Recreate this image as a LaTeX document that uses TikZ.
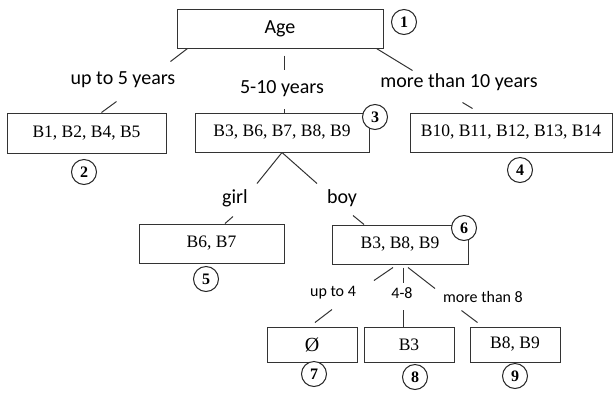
\documentclass[tikz,border=0pt]{standalone}
\usepackage{fontspec}
\setmainfont{Liberation Serif}
\newfontfamily\lblfont{Carlito}
\usetikzlibrary{positioning, calc}

\tikzset{
    box/.style={draw=black!80, line width=1pt, inner sep=0pt, font=\fontsize{17.5}{19}\selectfont},
    lbl/.style={inner sep=1pt, font=\lblfont\fontsize{20}{22}\selectfont},
    small/.style={inner sep=1pt, font=\lblfont\fontsize{16}{18}\selectfont},
    num/.style={circle, draw=black!85, line width=1pt, fill=white, inner sep=0pt, minimum size=25pt, font=\fontsize{16}{17}\selectfont\bfseries},
    link/.style={draw=black!80, line width=1pt}
}

\begin{document}
\begin{tikzpicture}[x=1pt, y=-1pt]
    \useasboundingbox (0,0) rectangle (616,392);

    % Root
    \node[box, minimum width=206pt, minimum height=39pt, font=\lblfont\fontsize{20}{22}\selectfont] (age) at (280,28.5) {Age};
    \node[num] (n1) at (404,22) {1};

    % Level 1
    \node[box, minimum width=159pt, minimum height=40pt] (b1) at (86.5,133) {B1, B2, B4, B5};
    \node[box, minimum width=174pt, minimum height=39pt] (b3) at (282,132.5) {B3, B6, B7, B8, B9};
    \node[box, minimum width=202pt, minimum height=39pt] (b10) at (511,132.5) {B10, B11, B12, B13, B14};
    \node[num] (n2) at (84,172) {2};
    \node[num] (n3) at (375,117) {3};
    \node[num] (n4) at (520,170) {4};

    \node[lbl] (upto5) at (123,80) {up to 5 years};
    \node[lbl] (mid) at (282,89) {5-10 years};
    \node[lbl] (over10) at (459,82) {more than 10 years};

    \draw[link] ($(age.south west)+(11,0)$) -- ++(-17,13);
    \draw[link] ($(b1.north west)+(95,0)$) -- ++(15,-11);
    \draw[link] ($(age.south)+(4,7)$) -- ++(0,14);
    \draw[link] ($(b3.north)+(2,0)$) -- ++(0,-4);
    \draw[link] ($(age.south east)+(-7,0)$) -- ++(36,22);
    \draw[link] ($(b10.north west)+(63,-4)$) -- ++(-10,-6);

    % Level 2
    \node[box, minimum width=145pt, minimum height=39pt] (b6) at (211.5,243.5) {B6, B7};
    \node[box, minimum width=136pt, minimum height=39pt] (b38) at (400,244.5) {B3, B8, B9};
    \node[num] (n5) at (206,279) {5};
    \node[num] (n6) at (464,228) {6};

    \node[lbl] (girl) at (235,198) {girl};
    \node[lbl] (boy) at (342,198) {boy};

    \draw[link] (b3.south) -- ++(-25,31);
    \draw[link] (b3.south) -- ++(35,31);
    \draw[link] ($(b6.north)+(13.5,0)$) -- ++(8,-7);
    \draw[link] ($(b38.north)+(-36,0)$) -- ++(-11,-9);

    % Level 3
    \node[box, minimum width=90pt, minimum height=35pt, font=\fontsize{20}{22}\selectfont] (none) at (312,344.5) {Ø};
    \node[box, minimum width=90pt, minimum height=35pt] (b3s) at (409,344.5) {B3};
    \node[box, minimum width=90pt, minimum height=35pt] (b89) at (515,344.5) {B8, B9};
    \node[num] (n7) at (314,374) {7};
    \node[num] (n8) at (415,377) {8};
    \node[num] (n9) at (515,376) {9};

    \node[small] (upto4) at (333,293) {up to 4};
    \node[small] (four8) at (402,293) {4-8};
    \node[small] (over8) at (483,297) {more than 8};

    \draw[link] ($(b38.south)+(-7,3)$) -- ++(-19,13);
    \draw[link] ($(b38.south)+(3,3)$) -- ++(0,15);
    \draw[link] ($(b38.south)+(8,3)$) -- ++(27,21);
    \draw[link] ($(none.north)+(3,-4)$) -- ++(17,-13);
    \draw[link] ($(b3s.north)+(-6,0)$) -- ++(0,-17);
    \draw[link] ($(b89.north west)+(8,-4)$) -- ++(-16,-12);
\end{tikzpicture}
\end{document}
